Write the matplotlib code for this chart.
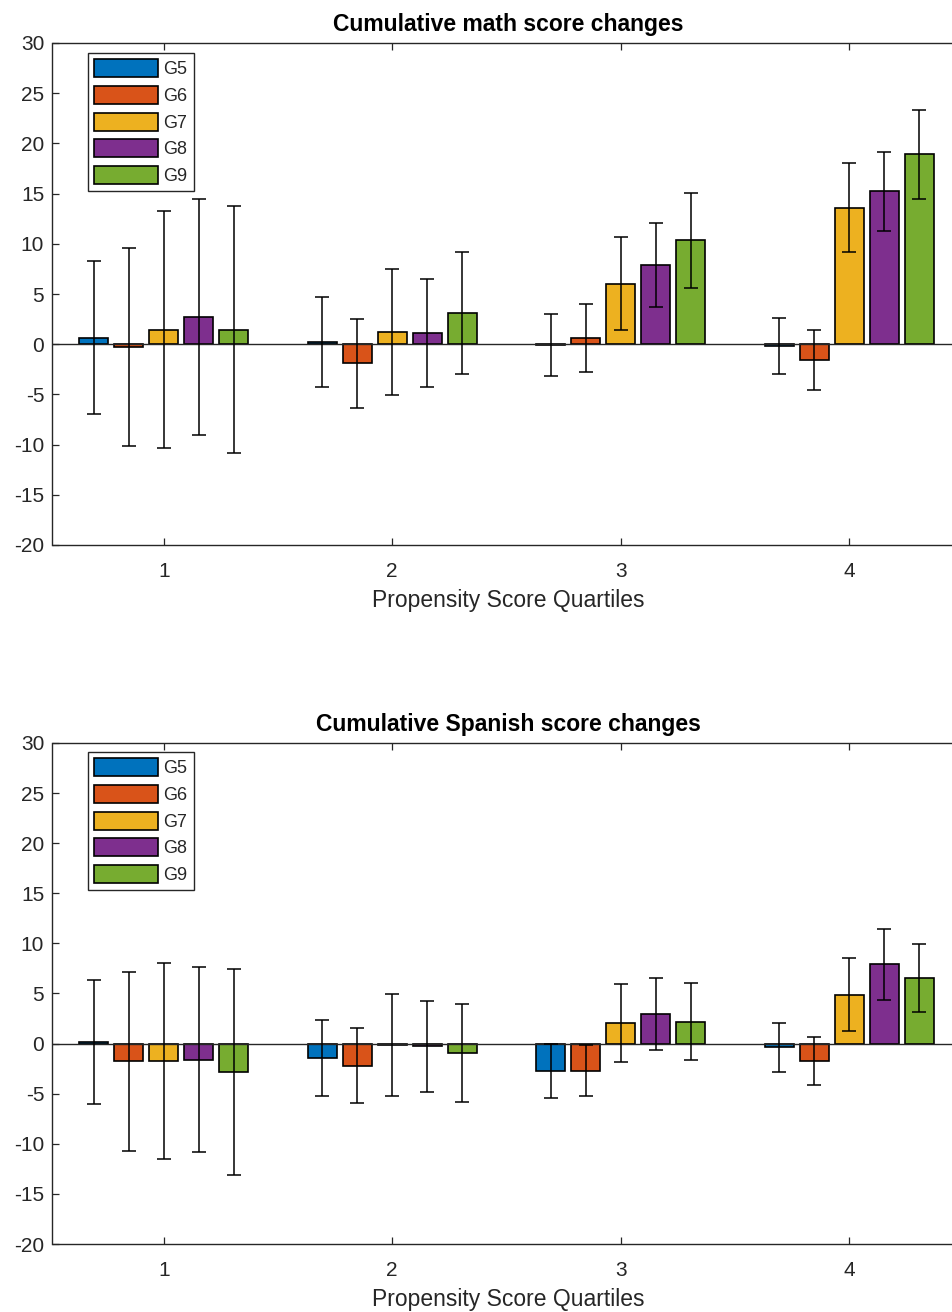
import numpy as np
import matplotlib
matplotlib.use('Agg')
import matplotlib.pyplot as plt

# data (rows: G5..G9, columns: quartile 1..4)
quartiles = [1, 2, 3, 4]
grades = ['G5', 'G6', 'G7', 'G8', 'G9']

math_mean = [
    [0.64, 0.25, -0.05, -0.2],
    [-0.28, -1.9, 0.63, -1.6],
    [1.46, 1.2, 6.03, 13.6],
    [2.7, 1.1, 7.9, 15.24],
    [1.46, 3.1, 10.33, 18.9],
]
math_err = [
    [7.6, 4.5, 3.1, 2.8],
    [9.85, 4.45, 3.35, 3.0],
    [11.8, 6.3, 4.6, 4.4],
    [11.75, 5.4, 4.2, 3.95],
    [12.3, 6.1, 4.75, 4.45],
]

spanish_mean = [
    [0.12, -1.43, -2.73, -0.35],
    [-1.77, -2.2, -2.72, -1.77],
    [-1.72, -0.15, 2.05, 4.9],
    [-1.6, -0.27, 2.95, 7.9],
    [-2.85, -0.95, 2.2, 6.55],
]
spanish_err = [
    [6.18, 3.8, 2.67, 2.45],
    [8.9, 3.75, 2.54, 2.38],
    [9.8, 5.08, 3.9, 3.68],
    [9.23, 4.53, 3.6, 3.5],
    [10.25, 4.92, 3.82, 3.41],
]

titles = ['Cumulative math score changes', 'Cumulative Spanish score changes']
xlabel = 'Propensity Score Quartiles'

# matlab default colour order
colors = ['#0072BD', '#D95319', '#EDB120', '#7E2F8E', '#77AC30']

plt.rcParams['font.family'] = ['Liberation Sans', 'DejaVu Sans']
plt.rcParams['axes.unicode_minus'] = False

W, H = 953, 1312
fig = plt.figure(figsize=(W / 100, H / 100), dpi=100)

grey = '#262626'
step = 0.153
width = 0.127

# axes boxes in pixels: (left, top, right, bottom)
boxes = [(52.5, 43, 963.4, 545), (52.5, 743, 963.4, 1244)]
legend_tops = [53, 752]

for k, (means, errs) in enumerate([(math_mean, math_err), (spanish_mean, spanish_err)]):
    l, t, r, b = boxes[k]
    ax = fig.add_axes([l / W, 1 - b / H, (r - l) / W, (b - t) / H])
    x = np.array(quartiles, dtype=float)
    for i, g in enumerate(grades):
        off = (i - 2) * step
        ax.bar(x + off, means[i], width, color=colors[i], edgecolor='black',
               linewidth=1.2, label=g, zorder=2)
        ax.errorbar(x + off, means[i], yerr=errs[i], fmt='none', ecolor='black',
                    elinewidth=1.1, capsize=5, capthick=1.1, zorder=3)
    ax.axhline(0, color=grey, lw=1.0, zorder=2.5)

    ax.set_xlim(0.513, 4.5)
    ax.set_ylim(-20, 30)
    ax.set_xticks(quartiles)
    ax.set_yticks(np.arange(-20, 31, 5))
    ax.tick_params(direction='in', length=5, width=0.9, colors=grey,
                   labelsize=15, top=True, right=True)
    ax.tick_params(axis='x', pad=12)
    ax.tick_params(axis='y', pad=6)
    for s in ax.spines.values():
        s.set_color(grey)
        s.set_linewidth(1.0)

    ax.set_title(titles[k], fontsize=16.5, fontweight='bold', color='black', pad=9)
    ax.set_xlabel(xlabel, fontsize=16.5, color=grey, labelpad=6)

    leg_x = (88 - l) / (r - l)
    leg_y = 1 - (legend_tops[k] - t) / (b - t)
    leg = ax.legend(loc='upper left', bbox_to_anchor=(leg_x, leg_y), borderaxespad=0,
                    fontsize=13, handlelength=3.55, handleheight=1.15,
                    handletextpad=0.28, labelspacing=0.42, borderpad=0.35,
                    fancybox=False, framealpha=1, edgecolor=grey)
    leg.get_frame().set_linewidth(1.0)
    for patch in leg.get_patches():
        patch.set_linewidth(1.2)
    for txt in leg.get_texts():
        txt.set_color(grey)

fig.savefig('out.png', dpi=100)
